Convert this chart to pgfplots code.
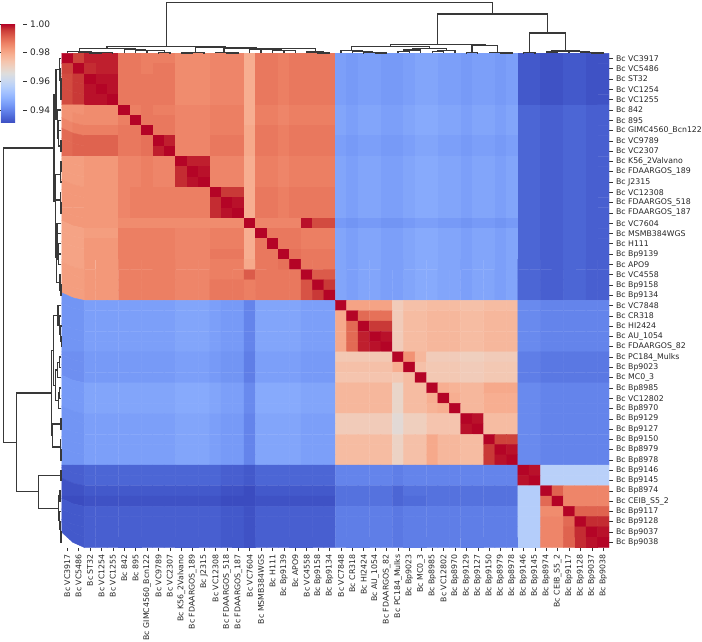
\documentclass[border=0pt]{standalone}
\usepackage{fontspec}
\setmainfont{DejaVu Sans}
\usepackage{pgfplots}
\usepackage{pgfplotstable}
\pgfplotsset{compat=1.18}

\pgfplotsset{
  colormap={coolwarm}{
    rgb255=(59,76,192) rgb255=(77,104,215) rgb255=(98,130,234) rgb255=(119,154,247)
    rgb255=(141,176,254) rgb255=(163,194,255) rgb255=(184,208,249) rgb255=(204,217,238)
    rgb255=(221,221,221) rgb255=(236,211,197) rgb255=(245,196,173) rgb255=(247,177,148)
    rgb255=(244,154,123) rgb255=(236,127,99) rgb255=(222,96,77) rgb255=(203,62,56)
    rgb255=(180,4,38)},
  dendro/.style={draw=black!78, line width=1.3pt, mark=none, unbounded coords=jump},
  lblfont/.style={font=\fontsize{7.8}{9}\selectfont, text=black!85},
}

% pairwise similarity (x 1000), rows/columns in clustered order
\pgfplotstableread[row sep=\\]{
v\\
1000\\995\\998\\998\\998\\988\\988\\987\\987\\987\\985\\985\\985\\986\\986\\986\\979\\988\\988\\987\\988\\988\\988\\988\\945\\944\\945\\945\\944\\944\\945\\946\\946\\945\\945\\944\\945\\945\\944\\945\\933\\933\\932\\932\\933\\933\\932\\932\\
995\\1000\\997\\998\\998\\988\\988\\987\\988\\988\\985\\985\\985\\986\\986\\986\\979\\988\\988\\987\\988\\988\\988\\988\\945\\944\\945\\945\\944\\944\\945\\946\\946\\945\\945\\944\\945\\945\\944\\945\\933\\933\\932\\932\\933\\933\\932\\932\\
994\\996\\1000\\999\\999\\988\\988\\988\\988\\988\\985\\985\\985\\986\\986\\986\\979\\988\\988\\987\\988\\988\\988\\988\\945\\944\\945\\945\\944\\944\\945\\946\\946\\945\\945\\944\\945\\945\\944\\945\\933\\933\\932\\932\\933\\933\\932\\932\\
994\\996\\999\\1000\\999\\988\\988\\988\\988\\988\\985\\985\\985\\986\\986\\986\\979\\988\\988\\987\\988\\988\\988\\988\\945\\944\\945\\945\\944\\944\\945\\946\\946\\945\\945\\944\\945\\945\\944\\945\\933\\933\\932\\932\\933\\933\\932\\932\\
994\\996\\999\\999\\1000\\988\\988\\988\\988\\988\\985\\985\\985\\986\\986\\986\\979\\988\\988\\987\\988\\988\\988\\988\\945\\944\\945\\945\\944\\944\\945\\946\\946\\945\\945\\944\\945\\945\\944\\945\\933\\933\\932\\932\\933\\933\\932\\932\\
984\\984\\985\\985\\985\\1000\\987\\988\\987\\987\\986\\986\\986\\987\\987\\987\\979\\987\\987\\986\\987\\987\\987\\987\\946\\945\\946\\946\\945\\945\\946\\947\\947\\946\\946\\945\\946\\946\\945\\946\\935\\935\\934\\934\\935\\935\\934\\934\\
984\\985\\985\\985\\985\\987\\1000\\988\\988\\988\\986\\986\\986\\987\\987\\987\\979\\987\\987\\986\\987\\987\\987\\987\\946\\945\\946\\946\\945\\945\\946\\947\\947\\946\\946\\945\\946\\946\\945\\946\\935\\935\\934\\934\\935\\935\\934\\934\\
986\\987\\987\\987\\987\\988\\988\\1000\\988\\988\\986\\986\\986\\987\\987\\987\\980\\988\\988\\987\\988\\988\\988\\988\\946\\945\\946\\946\\945\\945\\946\\947\\947\\946\\946\\945\\946\\946\\945\\946\\935\\935\\934\\934\\935\\935\\934\\934\\
990\\991\\991\\991\\991\\988\\988\\989\\1000\\998\\986\\986\\986\\988\\988\\988\\980\\988\\988\\987\\988\\988\\988\\988\\945\\944\\945\\945\\944\\944\\945\\946\\946\\945\\945\\944\\945\\945\\944\\945\\935\\935\\934\\934\\935\\935\\934\\934\\
990\\991\\991\\991\\991\\988\\988\\989\\998\\1000\\986\\986\\986\\988\\988\\988\\980\\988\\988\\987\\988\\988\\988\\988\\945\\944\\945\\945\\944\\944\\945\\946\\946\\945\\945\\944\\945\\945\\944\\945\\935\\935\\934\\934\\935\\935\\934\\934\\
982\\982\\983\\983\\983\\986\\986\\987\\986\\986\\1000\\998\\998\\986\\986\\986\\979\\987\\987\\986\\987\\987\\987\\987\\946\\945\\946\\946\\945\\945\\946\\947\\947\\946\\946\\945\\946\\946\\945\\946\\935\\935\\934\\934\\935\\935\\934\\934\\
982\\982\\983\\983\\983\\986\\986\\987\\986\\986\\997\\1000\\999\\986\\986\\986\\979\\987\\987\\986\\987\\987\\987\\987\\946\\945\\946\\946\\945\\945\\946\\947\\947\\946\\946\\945\\946\\946\\945\\946\\935\\935\\934\\934\\935\\935\\934\\934\\
982\\982\\983\\983\\983\\986\\986\\987\\986\\986\\997\\999\\1000\\986\\986\\986\\979\\987\\987\\986\\987\\987\\987\\987\\946\\945\\946\\946\\945\\945\\946\\947\\947\\946\\946\\945\\946\\946\\945\\946\\935\\935\\934\\934\\935\\935\\934\\934\\
983\\983\\983\\983\\983\\986\\987\\987\\987\\987\\987\\987\\987\\1000\\996\\996\\979\\988\\988\\987\\988\\988\\988\\988\\946\\945\\946\\946\\945\\945\\946\\947\\947\\946\\946\\945\\946\\946\\945\\946\\935\\935\\934\\934\\935\\935\\934\\934\\
983\\983\\983\\983\\983\\986\\987\\987\\987\\987\\987\\987\\987\\997\\1000\\999\\979\\988\\988\\987\\988\\988\\988\\988\\946\\945\\946\\946\\945\\945\\946\\947\\947\\946\\946\\945\\946\\946\\945\\946\\935\\935\\934\\934\\935\\935\\934\\934\\
983\\983\\983\\983\\983\\986\\987\\987\\987\\987\\987\\987\\987\\997\\999\\1000\\979\\988\\988\\987\\988\\988\\988\\988\\946\\945\\946\\946\\945\\945\\946\\947\\947\\946\\946\\945\\946\\946\\945\\946\\935\\935\\934\\934\\935\\935\\934\\934\\
983\\983\\983\\983\\983\\985\\985\\985\\985\\985\\985\\985\\985\\985\\985\\985\\1000\\986\\986\\986\\986\\999\\994\\994\\944\\943\\944\\944\\943\\943\\944\\945\\945\\944\\944\\943\\944\\944\\943\\944\\935\\935\\934\\934\\935\\935\\934\\934\\
981\\981\\982\\982\\982\\987\\987\\987\\987\\987\\986\\986\\986\\987\\987\\987\\979\\1000\\988\\988\\988\\987\\987\\987\\946\\945\\946\\946\\945\\945\\946\\947\\947\\946\\946\\945\\946\\946\\945\\946\\935\\935\\934\\934\\935\\935\\934\\934\\
981\\981\\983\\983\\983\\987\\987\\987\\987\\987\\986\\986\\986\\987\\987\\987\\979\\988\\1000\\988\\988\\987\\987\\987\\946\\945\\946\\946\\945\\945\\946\\947\\947\\946\\946\\945\\946\\946\\945\\946\\935\\935\\934\\934\\935\\935\\934\\934\\
981\\981\\983\\983\\983\\987\\987\\987\\987\\987\\986\\986\\986\\988\\988\\988\\979\\988\\988\\1000\\989\\988\\988\\988\\946\\945\\946\\946\\945\\945\\946\\947\\947\\946\\946\\945\\946\\946\\945\\946\\935\\935\\934\\934\\935\\935\\934\\934\\
981\\981\\983\\983\\983\\987\\987\\987\\987\\987\\986\\986\\986\\987\\987\\987\\980\\988\\988\\989\\1000\\988\\988\\988\\946\\945\\946\\946\\945\\945\\946\\947\\947\\946\\946\\945\\946\\946\\945\\946\\935\\935\\934\\934\\935\\935\\934\\934\\
982\\982\\983\\983\\983\\987\\987\\987\\987\\987\\986\\986\\986\\987\\987\\987\\992\\988\\988\\988\\988\\1000\\992\\992\\946\\945\\946\\946\\945\\945\\946\\947\\947\\946\\946\\945\\946\\946\\945\\946\\935\\935\\934\\934\\935\\935\\934\\934\\
982\\982\\983\\983\\983\\987\\987\\987\\987\\987\\986\\986\\986\\988\\988\\988\\987\\988\\988\\988\\988\\993\\1000\\996\\946\\945\\946\\946\\945\\945\\946\\947\\947\\946\\946\\945\\946\\946\\945\\946\\935\\935\\934\\934\\935\\935\\934\\934\\
982\\982\\983\\983\\983\\987\\987\\987\\987\\987\\986\\986\\986\\988\\988\\988\\987\\988\\988\\988\\988\\993\\996\\1000\\946\\945\\946\\946\\945\\945\\946\\947\\947\\946\\946\\945\\946\\946\\945\\946\\935\\935\\934\\934\\935\\935\\934\\934\\
943\\943\\945\\945\\945\\945\\945\\945\\945\\945\\946\\946\\946\\945\\944\\944\\940\\946\\946\\946\\946\\945\\945\\945\\1000\\981\\981\\981\\981\\972\\975\\975\\976\\976\\976\\975\\975\\976\\976\\976\\941\\941\\940\\940\\940\\940\\940\\940\\
943\\943\\945\\945\\945\\945\\945\\945\\945\\945\\946\\946\\946\\945\\944\\944\\940\\946\\946\\946\\946\\945\\945\\945\\980\\1000\\990\\989\\989\\972\\976\\976\\977\\977\\977\\976\\976\\977\\977\\977\\941\\941\\940\\940\\940\\940\\940\\940\\
943\\943\\945\\945\\945\\945\\945\\945\\945\\945\\946\\946\\946\\945\\944\\944\\940\\946\\946\\946\\946\\945\\945\\945\\980\\990\\1000\\996\\996\\972\\976\\976\\977\\977\\977\\976\\976\\977\\977\\977\\941\\941\\940\\940\\940\\940\\940\\940\\
943\\943\\945\\945\\945\\945\\945\\945\\945\\945\\946\\946\\946\\945\\944\\944\\940\\946\\946\\946\\946\\945\\945\\945\\980\\990\\998\\1000\\999\\972\\976\\976\\977\\977\\977\\976\\976\\977\\977\\977\\941\\941\\940\\940\\940\\940\\940\\940\\
943\\943\\945\\945\\945\\945\\945\\945\\945\\945\\946\\946\\946\\945\\944\\944\\940\\946\\946\\946\\946\\945\\945\\945\\980\\990\\998\\999\\1000\\972\\976\\976\\977\\977\\977\\976\\976\\977\\977\\977\\941\\941\\940\\940\\940\\940\\940\\940\\
942\\942\\944\\944\\944\\944\\944\\944\\944\\944\\945\\945\\945\\944\\943\\943\\939\\945\\945\\945\\945\\944\\944\\944\\973\\973\\973\\973\\973\\1000\\984\\977\\972\\972\\972\\971\\971\\972\\972\\972\\939\\939\\938\\938\\938\\938\\938\\938\\
942\\942\\944\\944\\944\\944\\944\\944\\944\\944\\945\\945\\945\\944\\943\\943\\939\\945\\945\\945\\945\\944\\944\\944\\975\\975\\975\\975\\975\\979\\1000\\975\\973\\973\\973\\972\\972\\973\\973\\973\\939\\939\\938\\938\\938\\938\\938\\938\\
942\\942\\944\\944\\944\\944\\944\\944\\944\\944\\945\\945\\945\\944\\943\\943\\939\\945\\945\\945\\945\\944\\944\\944\\974\\974\\974\\974\\974\\973\\976\\1000\\973\\973\\973\\972\\972\\973\\973\\973\\939\\939\\938\\938\\938\\938\\938\\938\\
944\\944\\946\\946\\946\\946\\946\\946\\946\\946\\947\\947\\947\\946\\945\\945\\941\\947\\947\\947\\947\\946\\946\\946\\977\\977\\977\\977\\977\\969\\976\\976\\1000\\979\\978\\977\\977\\980\\980\\980\\941\\941\\940\\940\\940\\940\\940\\940\\
944\\944\\946\\946\\946\\946\\946\\946\\946\\946\\947\\947\\947\\946\\945\\945\\941\\947\\947\\947\\947\\946\\946\\946\\977\\977\\977\\977\\977\\969\\976\\976\\979\\1000\\979\\977\\977\\979\\979\\979\\941\\941\\940\\940\\940\\940\\940\\940\\
944\\944\\946\\946\\946\\946\\946\\946\\946\\946\\947\\947\\947\\946\\945\\945\\941\\947\\947\\947\\947\\946\\946\\946\\977\\977\\977\\977\\977\\969\\976\\976\\978\\979\\1000\\977\\977\\979\\979\\979\\941\\941\\940\\940\\940\\940\\940\\940\\
943\\943\\945\\945\\945\\945\\945\\945\\945\\945\\946\\946\\946\\945\\944\\944\\940\\946\\946\\946\\946\\945\\945\\945\\972\\972\\972\\972\\972\\967\\971\\971\\974\\974\\974\\1000\\999\\976\\976\\976\\941\\941\\940\\940\\940\\940\\940\\940\\
943\\943\\945\\945\\945\\945\\945\\945\\945\\945\\946\\946\\946\\945\\944\\944\\940\\946\\946\\946\\946\\945\\945\\945\\972\\972\\972\\972\\972\\967\\971\\971\\974\\974\\974\\999\\1000\\976\\976\\976\\941\\941\\940\\940\\940\\940\\940\\940\\
943\\943\\945\\945\\945\\945\\945\\945\\945\\945\\946\\946\\946\\945\\944\\944\\940\\946\\946\\946\\946\\945\\945\\945\\976\\976\\976\\976\\976\\970\\975\\975\\980\\977\\977\\976\\976\\1000\\995\\995\\941\\941\\940\\940\\940\\940\\940\\940\\
943\\943\\945\\945\\945\\945\\945\\945\\945\\945\\946\\946\\946\\945\\944\\944\\940\\946\\946\\946\\946\\945\\945\\945\\976\\976\\976\\976\\976\\970\\975\\975\\980\\977\\977\\976\\976\\996\\1000\\999\\941\\941\\940\\940\\940\\940\\940\\940\\
943\\943\\945\\945\\945\\945\\945\\945\\945\\945\\946\\946\\946\\945\\944\\944\\940\\946\\946\\946\\946\\945\\945\\945\\976\\976\\976\\976\\976\\970\\975\\975\\980\\977\\977\\976\\976\\996\\999\\1000\\941\\941\\940\\940\\940\\940\\940\\940\\
934\\934\\935\\935\\935\\935\\935\\935\\935\\935\\935\\935\\935\\935\\934\\934\\933\\935\\935\\935\\935\\935\\935\\935\\940\\940\\940\\940\\940\\939\\940\\940\\940\\940\\940\\940\\940\\940\\940\\940\\1000\\999\\957\\957\\957\\957\\957\\957\\
934\\934\\935\\935\\935\\935\\935\\935\\935\\935\\935\\935\\935\\935\\934\\934\\933\\935\\935\\935\\935\\935\\935\\935\\940\\940\\940\\940\\940\\939\\940\\940\\940\\940\\940\\940\\940\\940\\940\\940\\999\\1000\\957\\957\\957\\957\\957\\957\\
932\\932\\933\\933\\933\\933\\933\\933\\933\\933\\933\\933\\933\\933\\932\\932\\931\\933\\933\\933\\933\\933\\933\\933\\937\\937\\937\\937\\937\\935\\937\\937\\937\\937\\937\\937\\937\\937\\937\\937\\956\\956\\1000\\991\\986\\986\\986\\986\\
931\\931\\932\\932\\932\\932\\932\\932\\932\\932\\932\\932\\932\\932\\931\\931\\931\\932\\932\\932\\932\\932\\932\\932\\937\\937\\937\\937\\937\\935\\936\\936\\937\\937\\937\\937\\937\\937\\937\\937\\956\\956\\990\\1000\\986\\986\\986\\986\\
933\\933\\934\\934\\934\\934\\934\\934\\934\\934\\934\\934\\934\\934\\933\\933\\932\\934\\934\\934\\934\\934\\934\\934\\939\\939\\939\\939\\939\\938\\939\\939\\939\\939\\939\\939\\939\\939\\939\\939\\956\\956\\985\\985\\1000\\991\\991\\991\\
933\\933\\934\\934\\934\\934\\934\\934\\934\\934\\934\\934\\934\\934\\933\\933\\932\\934\\934\\934\\934\\934\\934\\934\\939\\939\\939\\939\\939\\938\\939\\939\\939\\939\\939\\939\\939\\939\\939\\939\\956\\956\\986\\986\\990\\1000\\997\\997\\
933\\933\\934\\934\\934\\934\\934\\934\\934\\934\\934\\934\\934\\934\\933\\933\\932\\934\\934\\934\\934\\934\\934\\934\\939\\939\\939\\939\\939\\938\\939\\939\\939\\939\\939\\939\\939\\939\\939\\939\\956\\956\\986\\986\\991\\997\\1000\\999\\
933\\933\\934\\934\\934\\934\\934\\934\\934\\934\\934\\934\\934\\934\\933\\933\\932\\934\\934\\934\\934\\934\\934\\934\\939\\939\\939\\939\\939\\938\\939\\939\\939\\939\\939\\939\\939\\939\\939\\939\\956\\956\\986\\986\\991\\997\\999\\1000\\
}\simtab

% dendrogram links: leaf position u (0-based) and merge height h, one U per link
\pgfplotstableread{
u h
2 0
2 0.005
3 0.005
3 0
nan nan
2.5 0.005
2.5 0.010
4 0.010
4 0
nan nan
1 0
1 0.020
3.25 0.020
3.25 0.010
nan nan
0 0
0 0.035
2.125 0.035
2.125 0.020
nan nan
8 0
8 0.010
9 0.010
9 0
nan nan
7 0
7 0.050
8.5 0.050
8.5 0.010
nan nan
6 0
6 0.060
7.75 0.060
7.75 0.050
nan nan
5 0
5 0.070
6.875 0.070
6.875 0.060
nan nan
1.0625 0.035
1.0625 0.095
5.9375 0.095
5.9375 0.070
nan nan
10 0
10 0.008
11 0.008
11 0
nan nan
10.5 0.008
10.5 0.015
12 0.015
12 0
nan nan
14 0
14 0.006
15 0.006
15 0
nan nan
13 0
13 0.020
14.5 0.020
14.5 0.006
nan nan
22 0
22 0.008
23 0.008
23 0
nan nan
21 0
21 0.025
22.5 0.025
22.5 0.008
nan nan
19 0
19 0.050
20 0.050
20 0
nan nan
18 0
18 0.060
19.5 0.060
19.5 0.050
nan nan
17 0
17 0.068
18.75 0.068
18.75 0.060
nan nan
16 0
16 0.078
17.875 0.078
17.875 0.068
nan nan
16.9375 0.078
16.9375 0.088
21.75 0.088
21.75 0.025
nan nan
13.75 0.020
13.75 0.098
19.34375 0.098
19.34375 0.088
nan nan
11.25 0.015
11.25 0.108
16.546875 0.108
16.546875 0.098
nan nan
3.5 0.095
3.5 0.130
13.8984 0.130
13.8984 0.108
nan nan
27 0
27 0.005
28 0.005
28 0
nan nan
26 0
26 0.012
27.5 0.012
27.5 0.005
nan nan
25 0
25 0.030
26.75 0.030
26.75 0.012
nan nan
24 0
24 0.060
25.875 0.060
25.875 0.030
nan nan
29 0
29 0.040
30 0.040
30 0
nan nan
29.5 0.040
29.5 0.065
31 0.065
31 0
nan nan
32 0
32 0.038
33 0.038
33 0
nan nan
32.5 0.038
32.5 0.050
34 0.050
34 0
nan nan
30.25 0.065
30.25 0.100
33.25 0.100
33.25 0.050
nan nan
24.9375 0.060
24.9375 0.140
31.75 0.140
31.75 0.100
nan nan
35 0
35 0.010
36 0.010
36 0
nan nan
38 0
38 0.008
39 0.008
39 0
nan nan
37 0
37 0.020
38.5 0.020
38.5 0.008
nan nan
35.5 0.010
35.5 0.150
37.75 0.150
37.75 0.020
nan nan
28.34375 0.140
28.34375 0.175
36.625 0.175
36.625 0.150
nan nan
40 0
40 0.010
41 0.010
41 0
nan nan
46 0
46 0.008
47 0.008
47 0
nan nan
45 0
45 0.020
46.5 0.020
46.5 0.008
nan nan
44 0
44 0.032
45.75 0.032
45.75 0.020
nan nan
42 0
42 0.028
43 0.028
43 0
nan nan
42.5 0.028
42.5 0.048
44.875 0.048
44.875 0.032
nan nan
40.5 0.010
40.5 0.400
43.6875 0.400
43.6875 0.048
nan nan
32.484 0.175
32.484 0.775
42.094 0.775
42.094 0.400
nan nan
8.699 0.130
8.699 1.000
37.289 1.000
37.289 0.775
}\dendro

\newcommand{\strains}{{Bc VC3917},{Bc VC5486},{Bc ST32},{Bc VC1254},{Bc VC1255},{Bc 842},{Bc 895},{Bc GIMC4560\_Bcn122},{Bc VC9789},{Bc VC2307},{Bc K56\_2Valvano},{Bc FDAARGOS\_189},{Bc J2315},{Bc VC12308},{Bc FDAARGOS\_518},{Bc FDAARGOS\_187},{Bc VC7604},{Bc MSMB384WGS},{Bc H111},{Bc Bp9139},{Bc APO9},{Bc VC4558},{Bc Bp9158},{Bc Bp9134},{Bc VC7848},{Bc CR318},{Bc HI2424},{Bc AU\_1054},{Bc FDAARGOS\_82},{Bc PC184\_Mulks},{Bc Bp9023},{Bc MC0\_3},{Bc Bp8985},{Bc VC12802},{Bc Bp8970},{Bc Bp9129},{Bc Bp9127},{Bc Bp9150},{Bc Bp8979},{Bc Bp8978},{Bc Bp9146},{Bc Bp9145},{Bc Bp8974},{Bc CEIB\_S5\_2},{Bc Bp9117},{Bc Bp9128},{Bc Bp9037},{Bc Bp9038}}

\begin{document}
\begin{tikzpicture}
\useasboundingbox (0,0) rectangle (702pt,641pt);

% heatmap
\begin{axis}[
  at={(61.5pt,93.5pt)}, anchor=south west,
  scale only axis, width=547.5pt, height=494.2pt,
  xmin=-0.5, xmax=47.5, ymin=-0.5, ymax=47.5, y dir=reverse,
  enlargelimits=false,
  axis line style={draw=none},
  colormap name=coolwarm,
  point meta min=931, point meta max=1000,
  xtick={0,...,47}, ytick={0,...,47},
  xticklabels/.expand once=\strains,
  yticklabels/.expand once=\strains,
  xtick pos=left, ytick pos=right,
  xticklabel pos=left, yticklabel pos=right,
  tick align=outside, major tick length=3.5pt,
  tick style={black!80, line width=0.6pt},
  xticklabel style={lblfont, rotate=90, anchor=east},
  yticklabel style={lblfont, anchor=west},
  colorbar,
  colorbar shift/.style={},
  colorbar style={
    at={(1pt,617pt)}, anchor=north west,
    scale only axis, width=22pt, height=99pt,
    axis line style={draw=none},
    ytick={940,960,980,1000},
    yticklabels={0.94,0.96,0.98,1.00},
    yticklabel pos=right,
    tick align=outside, major tick length=3.5pt,
    ytick style={black!80, line width=0.6pt},
    yticklabel style={font=\fontsize{9}{10}\selectfont, text=black!85},
  },
]
\addplot[matrix plot*, mesh/cols=48, point meta=explicit]
  table[x index=0, y index=0, x expr={mod(\coordindex,48)}, y expr={floor(\coordindex/48)}, meta=v] {\simtab};
\end{axis}

% column dendrogram
\begin{axis}[
  at={(61.5pt,587.7pt)}, anchor=south west,
  scale only axis, width=547.5pt, height=53.3pt,
  xmin=-0.5, xmax=47.5, ymin=0, ymax=1.05,
  axis lines=none, clip=false,
]
\addplot[dendro] table[x=u, y=h] {\dendro};
\end{axis}

% row dendrogram
\begin{axis}[
  at={(0.5pt,93.5pt)}, anchor=south west,
  scale only axis, width=61pt, height=494.2pt,
  xmin=0, xmax=1.05, x dir=reverse,
  ymin=-0.5, ymax=47.5, y dir=reverse,
  axis lines=none, clip=false,
]
\addplot[dendro] table[x=h, y=u] {\dendro};
\end{axis}
\end{tikzpicture}
\end{document}
